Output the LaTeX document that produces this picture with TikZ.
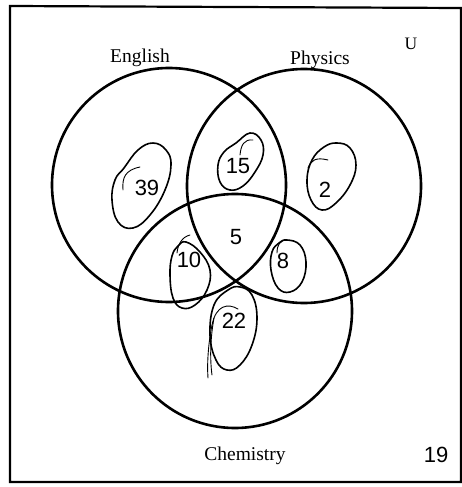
\documentclass[tikz,border=0pt]{standalone}
\usepackage{fontspec}
\setmainfont{Liberation Serif}
\newfontfamily\numfont{Liberation Sans}
\begin{document}
\begin{tikzpicture}[x=1pt,y=-1pt,
  setcircle/.style={draw=black,line width=2.6pt},
  loopline/.style={draw=black,line width=1.6pt,line join=round,line cap=round},
  hookline/.style={draw=black,line width=0.9pt,line cap=round},
  setlabel/.style={font=\fontsize{19.5}{19.5}\selectfont,anchor=base,inner sep=0pt},
  numlabel/.style={font=\numfont\fontsize{22}{22}\selectfont,anchor=base,inner sep=0pt}]
\useasboundingbox (0,0) rectangle (462,487);
\fill[white] (0,0) rectangle (462,487);
% universe frame
\draw[line width=2.2pt] (10,6) -- (461,8) -- (461,482) -- (10,482) -- cycle;
% set circles
\node[setcircle,circle,minimum size=234pt,inner sep=0pt] (E) at (169,185) {};
\node[setcircle,circle,minimum size=234pt,inner sep=0pt] (P) at (304,186) {};
\node[setcircle,circle,minimum size=234pt,inner sep=0pt] (C) at (235,311) {};
% labels
\node[setlabel] (lE) at (140,63) {English};
\node[setlabel] (lP) at (320,64) {Physics};
\node[setlabel] (lC) at (245,460) {Chemistry};
\node[setlabel,font=\fontsize{17.5}{17.5}\selectfont] (lU) at (411,50) {U};
\node[numlabel] (n19) at (436,462) {19};
% region counts
\node[numlabel] (n39) at (147,195) {39};
\node[numlabel] (n15) at (238,173) {15};
\node[numlabel] (n2) at (325,197) {2};
\node[numlabel] (n5) at (236,244) {5};
\node[numlabel] (n10) at (189,267) {10};
\node[numlabel] (n8) at (283,268) {8};
\node[numlabel] (n22) at (234,328) {22};
% hand-drawn loops
\draw[loopline] plot[smooth cycle,tension=0.7] coordinates {(153,143) (166,150) (171,165) (165,190) (150,215) (133,228) (118,222) (112,200) (115,180) (124,168) (138,150)};
\draw[hookline] (123,190) .. controls (122,178) and (125,170) .. (140,167);
\draw[loopline] plot[smooth cycle,tension=0.7] coordinates {(250,133) (261,140) (263,155) (255,172) (243,186) (230,190) (220,182) (218,165) (224,152) (236,143)};
\draw[hookline] (240,155) .. controls (241,145) and (244,139) .. (253,140);
\draw[loopline] plot[smooth cycle,tension=0.7] coordinates {(337,143) (350,148) (356,165) (350,185) (336,203) (322,210) (311,200) (307,180) (312,160) (324,147)};
\draw[hookline] (308,168) .. controls (311,160) and (316,157) .. (328,160);
\draw[loopline] plot[smooth cycle,tension=0.7] coordinates {(186,242) (200,252) (210,270) (207,290) (195,305) (182,308) (173,298) (170,275) (172,256) (178,246)};
\draw[hookline] (177,253) .. controls (178,244) and (182,237) .. (190,235);
\draw[loopline] plot[smooth cycle,tension=0.7] coordinates {(287,240) (300,245) (306,262) (302,282) (290,292) (278,288) (271,270) (272,252) (279,243)};
\draw[hookline] (277,253) .. controls (277,245) and (280,240) .. (287,240);
\draw[loopline] plot[smooth cycle,tension=0.7] coordinates {(240,287) (252,295) (257,318) (252,345) (240,365) (227,370) (216,360) (210,335) (214,305) (228,290)};
\draw[hookline] (238,309) .. controls (228,303) and (216,305) .. (212,325) .. controls (208,345) and (207,365) .. (208,378);
\draw[hookline] (214,318) .. controls (210,340) and (210,360) .. (212,375);
\end{tikzpicture}
\end{document}
